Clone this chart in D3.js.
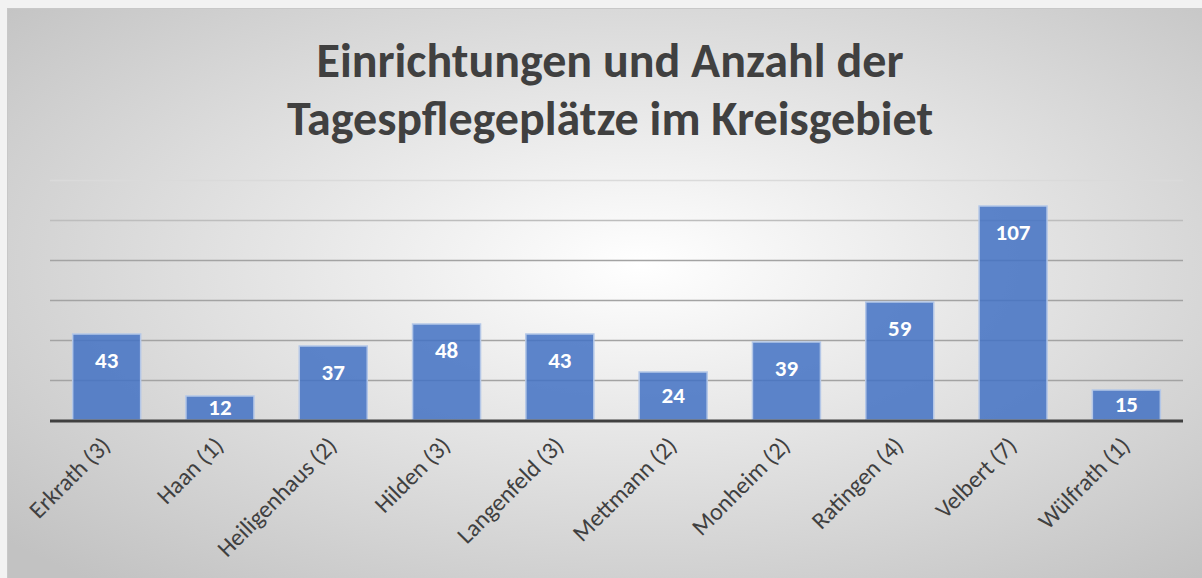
<!DOCTYPE html>
<html>
<head>
<meta charset="utf-8">
<script src="https://cdn.jsdelivr.net/npm/d3@7"></script>
<style>
  body { margin: 0; background: #f2f2f2; }
  text { font-family: Calibri, Carlito, "Open Sans", sans-serif; }
</style>
</head>
<body>
<div id="chart"></div>
<script>
// Orte mit Anzahl Einrichtungen in Klammern
var categories = ["Erkrath (3)", "Haan (1)", "Heiligenhaus (2)", "Hilden (3)", "Langenfeld (3)",
    "Mettmann (2)", "Monheim (2)", "Ratingen (4)", "Velbert (7)", "Wülfrath (1)"];
var plaetze = [43, 12, 37, 48, 43, 24, 39, 59, 107, 15];
var gridTicks = [20, 40, 60, 80, 100, 120];
var titleLines = ["Einrichtungen und Anzahl der", "Tagespflegeplätze im Kreisgebiet"];

var w = 1202, h = 578;
var margin = {top: 180, right: 19, bottom: 158, left: 50};

var svg = d3.select("#chart").append("svg")
    .attr("width", w)
    .attr("height", h);

//background gradient
var defs = svg.append("defs");
var grad = defs.append("radialGradient")
    .attr("id", "bg")
    .attr("cx", 0.53).attr("cy", 0.45).attr("r", 0.72);
grad.append("stop").attr("offset", "0%").attr("stop-color", "#ffffff");
grad.append("stop").attr("offset", "100%").attr("stop-color", "#c2c2c2");

svg.append("rect")
    .attr("x", 7).attr("y", 8)
    .attr("width", w - 7).attr("height", h - 8)
    .style("fill", "url(#bg)");
svg.append("line")
    .attr("x1", 7).attr("x2", w).attr("y1", 8.5).attr("y2", 8.5)
    .style("stroke", "#c8c8c8");
svg.append("line")
    .attr("x1", 7.5).attr("x2", 7.5).attr("y1", 8).attr("y2", h)
    .style("stroke", "#c8c8c8");

var x = d3.scaleBand()
    .domain(categories)
    .range([margin.left, w - margin.right])
    .paddingInner(0.4)
    .paddingOuter(0.2);

var y = d3.scaleLinear()
    .domain([0, 120])
    .range([h - margin.bottom, margin.top]);

// gridlines
svg.append("g").selectAll("line")
    .data(gridTicks)
    .enter()
    .append("line")
    .attr("x1", margin.left).attr("x2", w - margin.right)
    .attr("y1", function (d) { return Math.round(y(d)) + 0.5; })
    .attr("y2", function (d) { return Math.round(y(d)) + 0.5; })
    .style("stroke", function (d) { return d == 120 ? "#dadada" : (d == 100 ? "#bdbdbd" : "#a3a3a3"); })
    .style("stroke-width", 1.5);

// bars
svg.append("g").selectAll("rect")
    .data(plaetze)
    .enter()
    .append("rect")
    .attr("x", function (d, i) { return x(categories[i]); })
    .attr("y", function (d) { return y(d); })
    .attr("width", x.bandwidth())
    .attr("height", function (d) { return y(0) - y(d); })
    .style("fill", "#4472c4")
    .style("fill-opacity", 0.86)
    .style("stroke", "#b4c7e7")
    .style("stroke-width", 1.5);

// value labels (inside end, centred when the bar is short)
svg.append("g").selectAll("text")
    .data(plaetze)
    .enter()
    .append("text")
    .attr("x", function (d, i) { return x(categories[i]) + x.bandwidth() / 2; })
    .attr("y", function (d) { return Math.min(y(d) + 34, (y(d) + y(0)) / 2 + 7); })
    .attr("text-anchor", "middle")
    .style("fill", "#ffffff")
    .style("font-weight", "bold")
    .style("font-size", "23px")
    .text(function (d) { return d; });

// x axis baseline
svg.append("line")
    .attr("x1", margin.left).attr("x2", w - margin.right)
    .attr("y1", y(0) + 1).attr("y2", y(0) + 1)
    .style("stroke", "#404040")
    .style("stroke-width", 3);

// category labels
svg.append("g").selectAll("text")
    .data(categories)
    .enter()
    .append("text")
    .attr("transform", function (d) {
        return "translate(" + (x(d) + x.bandwidth() / 2 + 5) + "," + (y(0) + 27) + ") rotate(-45)";
    })
    .attr("text-anchor", "end")
    .style("fill", "#404040")
    .style("font-size", "24px")
    .text(function (d) { return d; });

// title
svg.append("g").selectAll("text")
    .data(titleLines)
    .enter()
    .append("text")
    .attr("x", 610)
    .attr("y", function (d, i) { return 77 + i * 58; })
    .attr("text-anchor", "middle")
    .style("fill", "#404040")
    .style("font-weight", "bold")
    .style("font-size", "48px")
    .text(function (d) { return d; });
</script>
</body>
</html>
